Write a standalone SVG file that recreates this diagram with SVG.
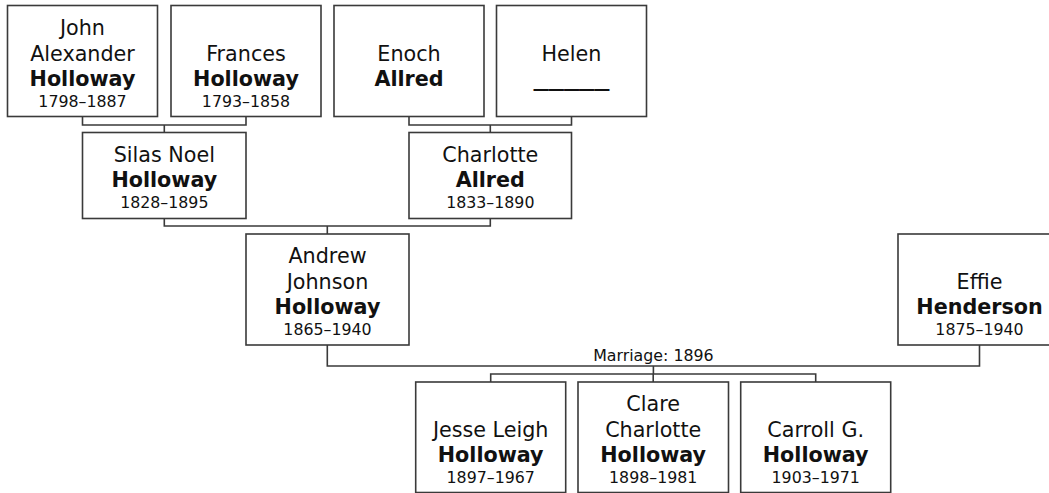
<svg xmlns="http://www.w3.org/2000/svg" width="1049" height="493" viewBox="0 0 1049 493">
<style>
.box{fill:#fff;stroke:#3a3a3a;stroke-width:1.6}
.c{fill:none;stroke:#3a3a3a;stroke-width:1.6}
text{font-family:"DejaVu Sans",Verdana,sans-serif;fill:#111;text-anchor:middle}
.n{font-size:20.7px}
.s{font-size:20.7px;font-weight:bold}
.d{font-size:15.8px}
.m{font-size:15.8px}
</style>
<rect width="1049" height="493" fill="#fff"/>
<g id="connectors">
<path class="c" d="M82.5,116.5V125H246V116.5M164.3,125V132.5"/>
<path class="c" d="M409,116.5V125H571.5V116.5M490.3,125V132.5"/>
<path class="c" d="M164.3,218.5V226H490.3V218.5M327.3,226V234"/>
<path class="c" d="M327.3,345V366H979.5V345M653.4,366V374"/>
<path class="c" d="M490.7,382V374H815.7V382M653.2,374V382"/>
<text class="m" x="653.4" y="360.7">Marriage: 1896</text>
</g>
<g id="john">
<rect class="box" x="7.5" y="5.5" width="150" height="111"/>
<text class="n" x="82.5" y="34.5">John</text>
<text class="n" x="82.5" y="60.5">Alexander</text>
<text class="s" x="82.5" y="85.5">Holloway</text>
<text class="d" x="82.5" y="106.5">1798–1887</text>
</g>
<g id="frances">
<rect class="box" x="171" y="5.5" width="150" height="111"/>
<text class="n" x="246" y="60.5">Frances</text>
<text class="s" x="246" y="85.5">Holloway</text>
<text class="d" x="246" y="106.5">1793–1858</text>
</g>
<g id="enoch">
<rect class="box" x="334" y="5.5" width="150" height="111"/>
<text class="n" x="409" y="60.5">Enoch</text>
<text class="s" x="409" y="85.5">Allred</text>
</g>
<g id="helen">
<rect class="box" x="496.5" y="5.5" width="150" height="111"/>
<text class="n" x="571.5" y="60.5">Helen</text>
<text class="s" x="571.5" y="85.5" textLength="76" lengthAdjust="spacingAndGlyphs">_____</text>
</g>
<g id="silas">
<rect class="box" x="82.5" y="132.5" width="163.5" height="86"/>
<text class="n" x="164.3" y="162">Silas Noel</text>
<text class="s" x="164.3" y="187">Holloway</text>
<text class="d" x="164.3" y="208">1828–1895</text>
</g>
<g id="charlotte">
<rect class="box" x="409" y="132.5" width="162.5" height="86"/>
<text class="n" x="490.3" y="162">Charlotte</text>
<text class="s" x="490.3" y="187">Allred</text>
<text class="d" x="490.3" y="208">1833–1890</text>
</g>
<g id="andrew">
<rect class="box" x="246" y="234" width="163" height="111"/>
<text class="n" x="327.5" y="262.5">Andrew</text>
<text class="n" x="327.5" y="288.5">Johnson</text>
<text class="s" x="327.5" y="313.5">Holloway</text>
<text class="d" x="327.5" y="335">1865–1940</text>
</g>
<g id="effie">
<rect class="box" x="898" y="234" width="163" height="111"/>
<text class="n" x="979.5" y="288.5">Effie</text>
<text class="s" x="979.5" y="313.5">Henderson</text>
<text class="d" x="979.5" y="335">1875–1940</text>
</g>
<g id="jesse">
<rect class="box" x="415.7" y="382" width="150" height="110.5"/>
<text class="n" x="490.7" y="436.8">Jesse Leigh</text>
<text class="s" x="490.7" y="461.5">Holloway</text>
<text class="d" x="490.7" y="482.5">1897–1967</text>
</g>
<g id="clare">
<rect class="box" x="578" y="382" width="150.5" height="110.5"/>
<text class="n" x="653.2" y="410.8">Clare</text>
<text class="n" x="653.2" y="436.8">Charlotte</text>
<text class="s" x="653.2" y="461.5">Holloway</text>
<text class="d" x="653.2" y="482.5">1898–1981</text>
</g>
<g id="carroll">
<rect class="box" x="740.7" y="382" width="150" height="110.5"/>
<text class="n" x="815.7" y="436.8">Carroll G.</text>
<text class="s" x="815.7" y="461.5">Holloway</text>
<text class="d" x="815.7" y="482.5">1903–1971</text>
</g>
</svg>
